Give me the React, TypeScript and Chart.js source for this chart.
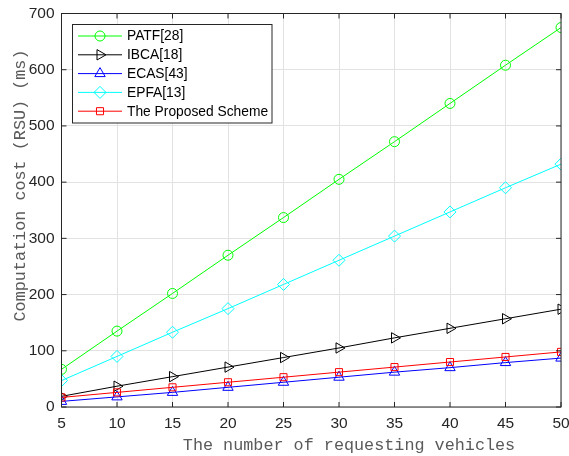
import React, { useEffect, useRef } from 'react';
import { Chart, registerables } from 'chart.js';

Chart.register(...registerables);

const xValues = [5, 10, 15, 20, 25, 30, 35, 40, 45, 50];
const patf = [67, 135, 202, 270, 337, 405, 472, 540, 608, 675];
const ibca = [19, 37, 54, 71, 88, 105, 123, 140, 157, 174];
const ecas = [10, 18, 26, 35, 44, 53, 62, 70, 79, 87];
const epfa = [47, 90, 133, 175, 218, 261, 304, 347, 390, 432];
const proposed = [17, 26, 35, 44, 53, 62, 71, 80, 89, 98];

const xTicks = [5, 10, 15, 20, 25, 30, 35, 40, 45, 50];
const yTicks = [0, 100, 200, 300, 400, 500, 600, 700];

const seriesNames = ['PATF[28]', 'IBCA[18]', 'ECAS[43]', 'EPFA[13]', 'The Proposed Scheme'];
const xTitle = 'The number of requesting vehicles';
const yTitle = 'Computation cost (RSU) (ms)';

const SANS = '"Liberation Sans", Arial, Helvetica, sans-serif';
const MONO = '"Liberation Mono", "Courier New", monospace';
const AXIS = '#262626';
const GRID = '#e2e2e2';

type Sty = { color: string; shape: string; r: number; rot: number };
const styles: Sty[] = [
  { color: '#00ff00', shape: 'circle', r: 5, rot: 0 },
  { color: '#000000', shape: 'triangle', r: 6, rot: 90 },
  { color: '#0000ff', shape: 'triangle', r: 6, rot: 0 },
  { color: '#00ffff', shape: 'rectRot', r: 6, rot: 0 },
  { color: '#ff0000', shape: 'rect', r: 5, rot: 0 },
];
const seriesData = [patf, ibca, ecas, epfa, proposed];

function drawMarker(ctx: CanvasRenderingContext2D, s: Sty, x: number, y: number) {
  ctx.beginPath();
  const r = s.r;
  if (s.shape === 'circle') {
    ctx.arc(x, y, r, 0, Math.PI * 2);
  } else if (s.shape === 'triangle') {
    let a = (s.rot * Math.PI) / 180;
    ctx.moveTo(x + Math.sin(a) * r, y - Math.cos(a) * r);
    a += (2 * Math.PI) / 3;
    ctx.lineTo(x + Math.sin(a) * r, y - Math.cos(a) * r);
    a += (2 * Math.PI) / 3;
    ctx.lineTo(x + Math.sin(a) * r, y - Math.cos(a) * r);
    ctx.closePath();
  } else if (s.shape === 'rectRot') {
    ctx.moveTo(x - r, y);
    ctx.lineTo(x, y - r);
    ctx.lineTo(x + r, y);
    ctx.lineTo(x, y + r);
    ctx.closePath();
  } else {
    const h = Math.SQRT1_2 * r;
    ctx.rect(x - h, y - h, 2 * h, 2 * h);
  }
  ctx.stroke();
}

const overlay = {
  id: 'overlay',
  afterDraw(chart: any) {
    const { ctx, chartArea: a, scales } = chart;
    ctx.save();
    // axes box
    ctx.strokeStyle = AXIS;
    ctx.lineWidth = 1;
    ctx.strokeRect(a.left, a.top, a.right - a.left, a.bottom - a.top);
    // inward ticks
    ctx.beginPath();
    for (const v of xTicks) {
      const px = scales.x.getPixelForValue(v);
      ctx.moveTo(px, a.bottom);
      ctx.lineTo(px, a.bottom - 5);
      ctx.moveTo(px, a.top);
      ctx.lineTo(px, a.top + 5);
    }
    for (const v of yTicks) {
      const py = scales.y.getPixelForValue(v);
      ctx.moveTo(a.left, py);
      ctx.lineTo(a.left + 5, py);
      ctx.moveTo(a.right, py);
      ctx.lineTo(a.right - 5, py);
    }
    ctx.stroke();

    // axis titles
    ctx.fillStyle = '#5a5a5a';
    ctx.font = `16.8px ${MONO}`;
    ctx.textAlign = 'center';
    ctx.textBaseline = 'alphabetic';
    ctx.fillText(xTitle, 349, 450);
    ctx.save();
    ctx.translate(25, 185.5);
    ctx.rotate(-Math.PI / 2);
    ctx.fillText(yTitle, 0, 0);
    ctx.restore();

    // legend
    const lx = 72.5, ly = 24.5, lw = 199.5, lh = 98.5;
    ctx.fillStyle = '#ffffff';
    ctx.fillRect(lx, ly, lw, lh);
    ctx.strokeStyle = AXIS;
    ctx.lineWidth = 1;
    ctx.strokeRect(lx, ly, lw, lh);
    ctx.font = `13.8px ${SANS}`;
    ctx.textAlign = 'left';
    ctx.textBaseline = 'middle';
    seriesNames.forEach((name, i) => {
      const s = styles[i];
      const cy = 36 + i * 18.8;
      ctx.strokeStyle = s.color;
      ctx.lineWidth = 1;
      ctx.beginPath();
      ctx.moveTo(78, cy);
      ctx.lineTo(122, cy);
      ctx.stroke();
      drawMarker(ctx, s, 100, cy);
      ctx.fillStyle = '#000000';
      ctx.fillText(name, 127, cy + 0.5);
    });
    ctx.restore();
  },
};

export default function App() {
  const ref = useRef<HTMLCanvasElement>(null);
  useEffect(() => {
    if (!ref.current) return;
    const datasets = seriesData.map((d, i) => ({
      label: seriesNames[i],
      data: xValues.map((x, j) => ({ x, y: d[j] })),
      borderColor: styles[i].color,
      backgroundColor: 'rgba(0,0,0,0)',
      borderWidth: 1,
      pointStyle: styles[i].shape,
      pointRotation: styles[i].rot,
      pointRadius: styles[i].r,
      pointBorderWidth: 1,
      pointBorderColor: styles[i].color,
      pointBackgroundColor: 'rgba(0,0,0,0)',
      order: 10 - i,
      tension: 0,
    }));
    const chart = new Chart(ref.current, {
      type: 'line',
      data: { datasets },
      options: {
        animation: false,
        responsive: false,
        devicePixelRatio: 1,
        layout: { padding: { left: 0, right: 8, top: 13.5, bottom: 0 } },
        plugins: { legend: { display: false }, tooltip: { enabled: false } },
        scales: {
          x: {
            type: 'linear',
            min: 5,
            max: 50,
            afterBuildTicks: (s: any) => {
              s.ticks = xTicks.map((v) => ({ value: v }));
            },
            afterFit: (s: any) => {
              s.height = 49;
              s.paddingLeft = 0;
              s.paddingRight = 0;
            },
            ticks: { font: { family: SANS, size: 15.5 }, color: AXIS, padding: 7, maxRotation: 0, autoSkip: false },
            grid: { color: GRID, drawTicks: false, lineWidth: 1 },
            border: { display: false },
          },
          y: {
            type: 'linear',
            min: 0,
            max: 700,
            afterBuildTicks: (s: any) => {
              s.ticks = yTicks.map((v) => ({ value: v }));
            },
            afterFit: (s: any) => {
              s.width = 61.5;
              s.paddingTop = 0;
              s.paddingBottom = 0;
            },
            ticks: { font: { family: SANS, size: 15.5 }, color: AXIS, padding: 7, autoSkip: false },
            grid: { color: GRID, drawTicks: false, lineWidth: 1 },
            border: { display: false },
          },
        },
      },
      plugins: [overlay],
    });
    return () => chart.destroy();
  }, []);
  return (
    <div style={{ position: 'fixed', left: 0, top: 0, width: 569, height: 456, background: '#fff' }}>
      <canvas ref={ref} width={569} height={456} style={{ display: 'block' }} />
    </div>
  );
}
